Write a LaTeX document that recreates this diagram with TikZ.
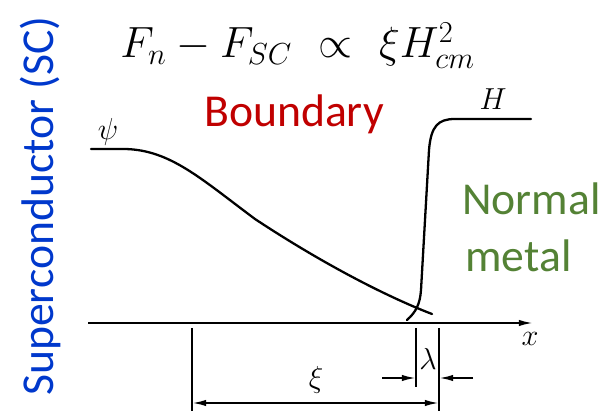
\documentclass[tikz,border=0pt]{standalone}
\usepackage{amsmath,amssymb}
\usepackage{fontspec}
\newfontfamily\calfont{Carlito}
\usetikzlibrary{arrows.meta}
\definecolor{scblue}{RGB}{0,56,204}
\definecolor{bdred}{RGB}{192,0,0}
\definecolor{nmgreen}{RGB}{84,130,53}
\tikzset{
    curve/.style={line width=1.3pt,line cap=round},
    dimline/.style={line width=1.1pt},
    arrow/.style={-{Latex[length=8pt,width=3.6pt]},line width=1.1pt},
    symb/.style={font=\fontsize{17}{20}\selectfont,inner sep=0pt},
    word/.style={font=\calfont\fontsize{26}{31}\selectfont,inner sep=0pt}
}

\begin{document}
\begin{tikzpicture}[x=0.02cm,y=-0.02cm]
    \useasboundingbox (0,0) rectangle (601,411);

    % side caption and formula
    \node[word,text=scblue,rotate=90,anchor=base] (sc) at (53,206) {Superconductor (SC)};
    \node[anchor=base west,inner sep=0pt,font=\fontsize{27}{32}\selectfont] (fe) at (120,58)
        {$F_n - F_{SC}\ \propto\ \xi H_{cm}^2$};
    \node[word,text=bdred,anchor=base] (bd) at (294,127) {Boundary};
    \node[word,text=nmgreen,anchor=base west] (nm1) at (462,215) {Normal};
    \node[word,text=nmgreen,anchor=base west] (nm2) at (465,272) {metal};

    % order parameter and field
    \draw[curve] (91,149) -- (125,149) .. controls (170,150) and (200,178) .. (255,219)
        .. controls (320,262) and (385,296) .. (432,314);
    \node[symb] (psi) at (108,132) {$\psi$};
    \draw[curve] (407,320) .. controls (416,312) and (420,304) .. (421,290) -- (429,150)
        .. controls (431,126) and (438,119) .. (455,119) -- (531,119);
    \node[symb] (H) at (493,99) {$H$};

    % x axis
    \coordinate (x0) at (88,323);
    \coordinate (x1) at (533,323);
    \draw[arrow] (x0) -- (x1);
    \node[symb] (xl) at (530,339) {$x$};

    % dimension lines
    \coordinate (a1) at (192,328);  \coordinate (a2) at (192,411);
    \coordinate (b1) at (416,328);  \coordinate (b2) at (416,387);
    \coordinate (c1) at (439,328);  \coordinate (c2) at (439,411);
    \foreach \p/\q in {a1/a2,b1/b2,c1/c2} {\draw[dimline] (\p)--(\q);}
    \coordinate (xiL) at (192,403);
    \coordinate (xiR) at (439,403);
    \draw[arrow,{Latex[length=8pt,width=3.6pt]}-{Latex[length=8pt,width=3.6pt]}] (xiL) -- (xiR);
    \node[symb] (xi) at (316,380) {$\xi$};
    \coordinate (lmL) at (382,378);
    \coordinate (lmR) at (473,378);
    \coordinate (lmA) at (416,378);
    \coordinate (lmB) at (439,378);
    \draw[arrow] (lmL) -- (lmA);
    \draw[arrow] (lmR) -- (lmB);
    \node[symb] (lm) at (428,359) {$\lambda$};
\end{tikzpicture}
\end{document}
